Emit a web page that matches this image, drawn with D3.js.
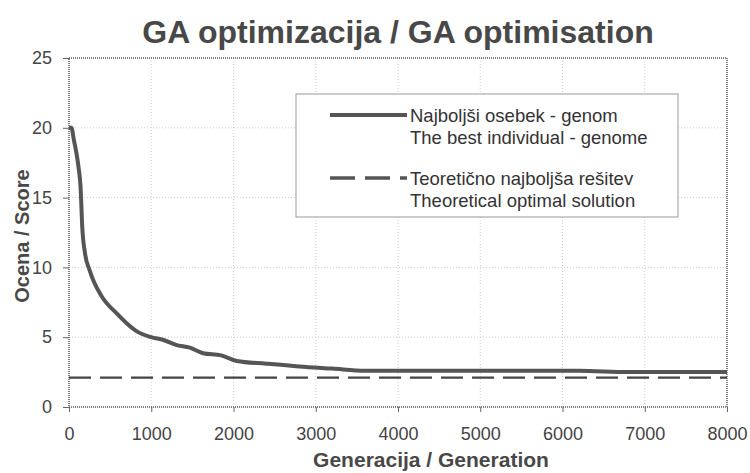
<!DOCTYPE html>
<html>
<head>
<meta charset="utf-8">
<script src="https://cdn.jsdelivr.net/npm/d3@7"></script>
<style>
  body { margin: 0; background: #fff; }
  svg { font-family: "Liberation Sans", Arial, sans-serif; }
</style>
</head>
<body>
<script>
// generation numbers and best score
var generations = [0, 30, 60, 90, 120, 140, 150, 160, 195, 250, 300, 400, 580, 700, 830, 1000,
    1150, 1300, 1470, 1630, 1850, 2040, 2400, 2800, 3200, 3600, 6200, 6800, 8000];
var bestScores = [20.0, 20.0, 19.1, 18.2, 17.0, 15.8, 14.5, 13.0, 11.0, 9.8, 9.0, 7.9, 6.7, 6.0, 5.4, 5.0,
    4.8, 4.45, 4.25, 3.85, 3.7, 3.3, 3.1, 2.9, 2.75, 2.6, 2.6, 2.5, 2.5];
var optimalGenerations = [0, 8000];
var optimalScores = [2.1, 2.1];
var xTicks = [0, 1000, 2000, 3000, 4000, 5000, 6000, 7000, 8000];
var yTicks = [0, 5, 10, 15, 20, 25];
var legendLabels = [
    ["Najboljši osebek - genom", "The best individual - genome"],
    ["Teoretično najboljša rešitev", "Theoretical optimal solution"]
];

var width = 750, height = 473;
var margin = {top: 58, right: 23, bottom: 66, left: 69};

var svg = d3.select("body").append("svg")
    .attr("width", width)
    .attr("height", height);

var x = d3.scaleLinear().domain([0, 8000]).range([margin.left, width - margin.right]);
var y = d3.scaleLinear().domain([0, 25]).range([height - margin.bottom, margin.top]);

// title
svg.append("text")
    .attr("x", 398).attr("y", 43)
    .attr("text-anchor", "middle")
    .attr("font-size", 32).attr("font-weight", "bold")
    .attr("fill", "#484848")
    .text("GA optimizacija / GA optimisation");

// grid
svg.append("g").selectAll("line")
    .data(xTicks.slice(1, -1))
    .join("line")
    .attr("x1", d => x(d)).attr("x2", d => x(d))
    .attr("y1", y(0)).attr("y2", y(25))
    .attr("stroke", "#cfcfcf").attr("stroke-dasharray", "1,2");
svg.append("g").selectAll("line")
    .data(yTicks.slice(1, -1))
    .join("line")
    .attr("y1", d => y(d)).attr("y2", d => y(d))
    .attr("x1", x(0)).attr("x2", x(8000))
    .attr("stroke", "#cfcfcf").attr("stroke-dasharray", "1,2");

// axes
var xAxis = svg.append("g")
    .attr("transform", `translate(0,${y(0)})`)
    .call(d3.axisBottom(x).tickValues(xTicks).tickSize(5).tickPadding(15).tickFormat(d3.format("d")));
var yAxis = svg.append("g")
    .attr("transform", `translate(${x(0)},0)`)
    .call(d3.axisLeft(y).tickValues(yTicks).tickSize(6).tickPadding(11));
[xAxis, yAxis].forEach(function (a) {
    a.select(".domain").remove();
    a.selectAll(".tick line").attr("stroke", "#666");
    a.selectAll(".tick text").attr("font-size", 18).attr("fill", "#444")
        .attr("font-family", "Liberation Sans, Arial, sans-serif");
});

// plot border, dotted like the original
svg.append("rect")
    .attr("x", x(0)).attr("y", y(25))
    .attr("width", x(8000) - x(0)).attr("height", y(0) - y(25))
    .attr("fill", "none").attr("stroke", "#555")
    .attr("stroke-width", 1.5).attr("stroke-dasharray", "1,1");

// optimal line
var optimal = optimalGenerations.map((g, i) => [g, optimalScores[i]]);
svg.append("path")
    .datum(optimal)
    .attr("d", d3.line().x(d => x(d[0])).y(d => y(d[1])))
    .attr("fill", "none").attr("stroke", "#444")
    .attr("stroke-width", 2.2).attr("stroke-dasharray", "22,9");

// best individual curve
var best = generations.map((g, i) => [g, bestScores[i]]);
svg.append("path")
    .datum(best)
    .attr("d", d3.line().curve(d3.curveMonotoneX).x(d => x(d[0])).y(d => y(d[1])))
    .attr("fill", "none").attr("stroke", "#555")
    .attr("stroke-width", 4).attr("stroke-linejoin", "round");

// axis titles
svg.append("text")
    .attr("x", 431).attr("y", 467)
    .attr("text-anchor", "middle")
    .attr("font-size", 21).attr("font-weight", "bold").attr("fill", "#484848")
    .text("Generacija / Generation");
svg.append("text")
    .attr("transform", "translate(29,236) rotate(-90)")
    .attr("text-anchor", "middle")
    .attr("font-size", 20).attr("font-weight", "bold").attr("fill", "#484848")
    .text("Ocena / Score");

// legend
var legend = svg.append("g");
legend.append("rect")
    .attr("x", 296).attr("y", 94).attr("width", 382).attr("height", 123)
    .attr("fill", "#fff").attr("stroke", "#999");
var styles = [{dash: null, w: 4, c: "#555"}, {dash: "25,10", w: 3.5, c: "#555"}];
legendLabels.forEach(function (lab, i) {
    var cy = 115 + i * 63;
    legend.append("line")
        .attr("x1", 330).attr("x2", 407).attr("y1", cy).attr("y2", cy)
        .attr("stroke", styles[i].c).attr("stroke-width", styles[i].w)
        .attr("stroke-dasharray", styles[i].dash);
    lab.forEach(function (t, j) {
        legend.append("text")
            .attr("x", 410).attr("y", cy + 6.5 + j * 22)
            .attr("font-size", 18.5).attr("fill", "#333")
            .text(t);
    });
});
</script>
</body>
</html>
